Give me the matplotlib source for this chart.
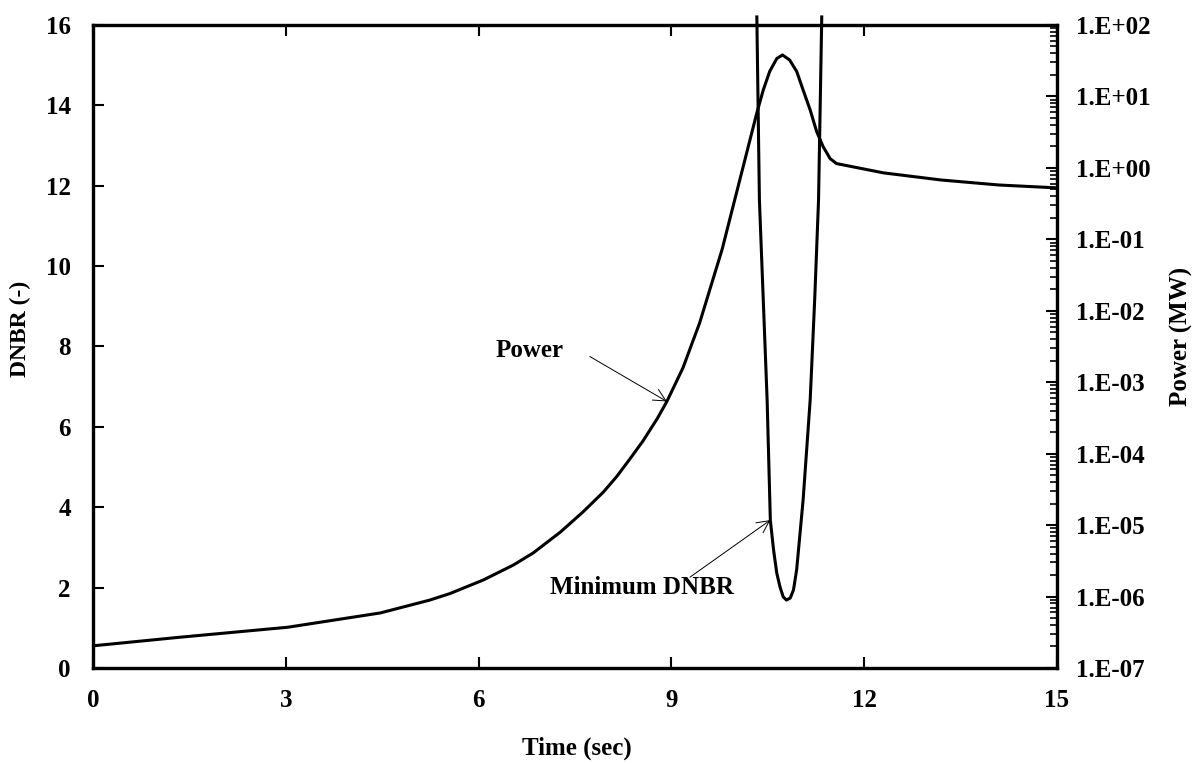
import numpy as np
import matplotlib
matplotlib.use('Agg')
import matplotlib.pyplot as plt
from matplotlib.ticker import FuncFormatter, LogLocator, MultipleLocator

plt.rcParams['font.family'] = 'Liberation Serif'
plt.rcParams['font.weight'] = 'bold'
plt.rcParams['font.size'] = 18

# Power (MW) as log10 values
power_t = [0.0, 1.35, 3.03, 4.47, 5.24, 5.55, 6.07, 6.54, 6.85, 7.27, 7.62,
           7.94, 8.15, 8.35, 8.56, 8.78, 8.93, 9.18, 9.44, 9.79, 10.33, 10.43,
           10.53, 10.64, 10.73, 10.84, 10.95, 11.05, 11.16, 11.26, 11.36,
           11.47, 11.57, 12.3, 13.2, 14.1, 15.0]
power_log = [-6.69, -6.57, -6.43, -6.23, -6.05, -5.96, -5.77, -5.56, -5.39,
             -5.10, -4.82, -4.54, -4.32, -4.08, -3.82, -3.51, -3.27, -2.80,
             -2.17, -1.14, 0.77, 1.09, 1.35, 1.53, 1.58, 1.51, 1.35, 1.09,
             0.81, 0.51, 0.30, 0.13, 0.06, -0.07, -0.17, -0.24, -0.28]
power = 10.0 ** np.array(power_log)

# Minimum DNBR (off scale before ~10.3 s and after ~11.35 s)
dnbr_t = [10.33, 10.37, 10.43, 10.49, 10.54, 10.59, 10.64, 10.69, 10.74,
          10.79, 10.85, 10.90, 10.95, 11.05, 11.16, 11.23, 11.29, 11.34]
dnbr = [16.2, 11.64, 9.16, 6.67, 3.68, 2.94, 2.36, 2.02, 1.77, 1.69, 1.74,
        1.94, 2.45, 4.18, 6.67, 9.16, 11.64, 16.2]

fig = plt.figure(figsize=(11.97, 7.64), dpi=100)
ax = fig.add_axes([0.0777, 0.1257, 0.8053, 0.8416])
ax2 = ax.twinx()

ax.plot(dnbr_t, dnbr, color='black', lw=2.2, clip_on=False)
ax2.plot(power_t, power, color='black', lw=2.2)

ax.set_xlim(0, 15)
ax.set_ylim(0, 16)
ax.xaxis.set_major_locator(MultipleLocator(3))
ax.yaxis.set_major_locator(MultipleLocator(2))
ax.tick_params(axis='both', direction='in', length=8, width=1.5, pad=16,
               top=True, labelsize=18)
ax.tick_params(axis='x', pad=15)

ax2.set_yscale('log')
ax2.set_ylim(1e-7, 1e2)
ax2.yaxis.set_major_locator(LogLocator(base=10, numticks=12))
ax2.yaxis.set_minor_locator(LogLocator(base=10, subs=np.arange(2, 10), numticks=12))
ax2.yaxis.set_major_formatter(
    FuncFormatter(lambda v, p: '1.E{:+03d}'.format(int(round(np.log10(v))))))
ax2.tick_params(axis='y', which='major', direction='in', length=8, width=1.5,
                pad=14, labelsize=18)
ax2.tick_params(axis='y', which='minor', direction='in', length=5, width=1.2)

for a in (ax, ax2):
    for sp in a.spines.values():
        sp.set_linewidth(2.3)

ax.set_xlabel('Time (sec)', fontsize=18, fontweight='bold')
ax.set_ylabel('DNBR (-)', fontsize=17, fontweight='bold')
ax2.set_ylabel('Power (MW)', fontsize=18, fontweight='bold')
ax.xaxis.set_label_coords(0.502, -0.107)
ax.yaxis.set_label_coords(-0.064, 0.527)
ax2.yaxis.set_label_coords(1.117, 0.515)

# annotations
ax2.annotate('', xy=(8.93, 10 ** -3.27), xytext=(7.73, 10 ** -2.64),
             arrowprops=dict(arrowstyle='->', color='black', lw=0.7,
                             mutation_scale=22, shrinkA=0, shrinkB=0))
ax2.text(6.8, 10 ** -2.56, 'Power', ha='center', va='center', fontsize=18)
ax.annotate('', xy=(10.54, 3.68), xytext=(9.29, 2.26),
            arrowprops=dict(arrowstyle='->', color='black', lw=0.7,
                            mutation_scale=22, shrinkA=0, shrinkB=0))
ax.text(8.54, 2.0, 'Minimum DNBR', ha='center', va='center', fontsize=18)

plt.savefig('out.png', dpi=100)
